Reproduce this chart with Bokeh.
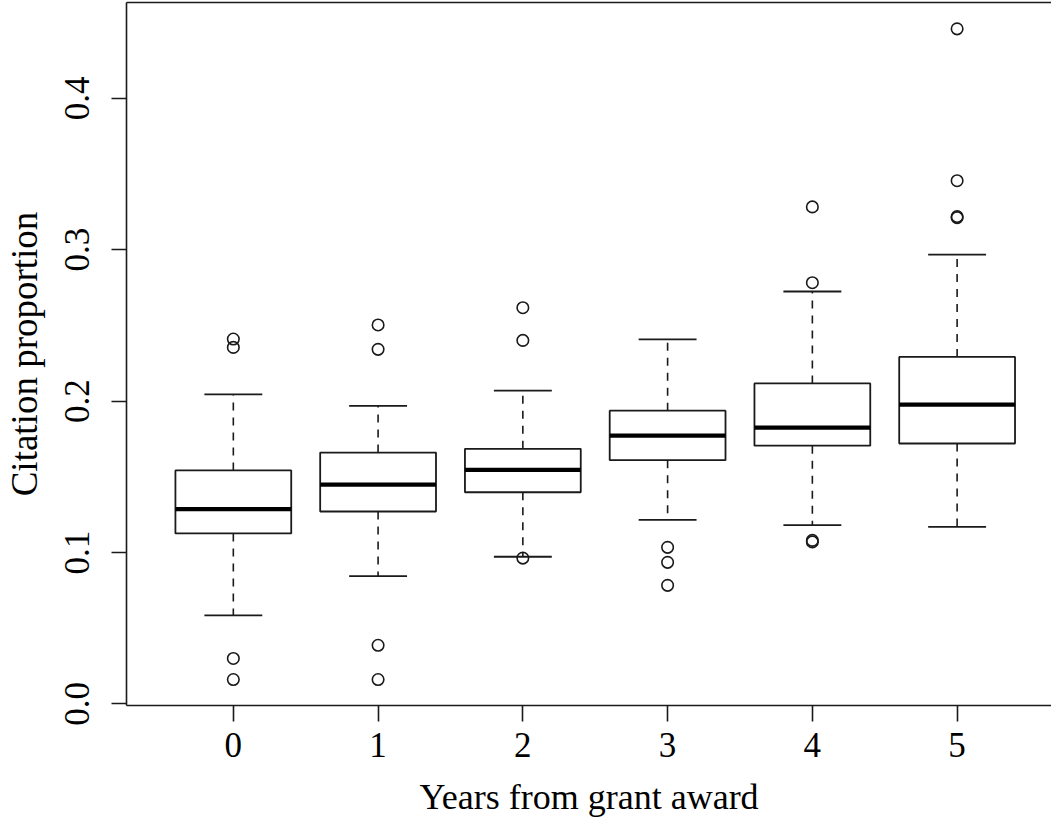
from bokeh.plotting import figure
from bokeh.models import Range1d, FixedTicker, NumeralTickFormatter, LinearAxis
from bokeh.embed import file_html
from bokeh.resources import INLINE

# ---- data ----
years = [0, 1, 2, 3, 4, 5]
lower_whisker = [0.0585, 0.0844, 0.0972, 0.1216, 0.1181, 0.1170]
q1 = [0.1126, 0.1271, 0.1398, 0.1610, 0.1706, 0.1720]
median = [0.1286, 0.1449, 0.1546, 0.1772, 0.1825, 0.1977]
q3 = [0.1542, 0.1660, 0.1685, 0.1937, 0.2117, 0.2292]
upper_whisker = [0.2045, 0.1968, 0.2069, 0.2408, 0.2724, 0.2968]
outlier_year = [0, 0, 0, 0,
                 1, 1, 1, 1,
                 2, 2, 2,
                 3, 3, 3,
                 4, 4, 4, 4,
                 5, 5, 5, 5]
outlier_value = [0.2410, 0.2355, 0.0300, 0.0161,
                 0.2503, 0.2342, 0.0387, 0.0161,
                 0.2617, 0.2401, 0.0963,
                 0.1034, 0.0935, 0.0783,
                 0.3283, 0.2782, 0.1080, 0.1070,
                 0.4459, 0.3456, 0.3219, 0.3212]
y_ticks = [0.0, 0.1, 0.2, 0.3, 0.4]
x_title = "Years from grant award"
y_title = "Citation proportion"

BOX_W = 0.8
STAPLE_W = 0.4
FONT = "Liberation Serif"
INK = "#1a1a1a"

p = figure(width=1051, height=819, output_backend="svg", toolbar_location=None,
           x_range=Range1d(-0.738, 5.652), y_range=Range1d(-0.00105, 0.4633),
           min_border_left=125, min_border_right=0, min_border_top=2, min_border_bottom=113,
           x_axis_label=x_title, y_axis_label=y_title)
p.outline_line_color = None
p.grid.grid_line_color = None
p.background_fill_color = "white"
p.border_fill_color = "white"

xl = [x - BOX_W / 2 for x in years]
xr = [x + BOX_W / 2 for x in years]
sl = [x - STAPLE_W / 2 for x in years]
sr = [x + STAPLE_W / 2 for x in years]

# whiskers (dashed)
p.segment(x0=years, x1=years, y0=q3, y1=upper_whisker, line_color=INK, line_width=1.6, line_dash="8 7")
p.segment(x0=years, x1=years, y0=q1, y1=lower_whisker, line_color=INK, line_width=1.6, line_dash="8 7")
# staples
p.segment(x0=sl, x1=sr, y0=upper_whisker, y1=upper_whisker, line_color=INK, line_width=1.8)
p.segment(x0=sl, x1=sr, y0=lower_whisker, y1=lower_whisker, line_color=INK, line_width=1.8)
# boxes
p.quad(left=xl, right=xr, bottom=q1, top=q3, fill_color="white", line_color=INK, line_width=1.8)
# medians
p.segment(x0=xl, x1=xr, y0=median, y1=median, line_color="black", line_width=4.2, line_cap="butt")
# outliers
p.scatter(x=outlier_year, y=outlier_value, marker="circle", size=11.5, fill_color=None,
          line_color=INK, line_width=1.6)

# axes
xa = p.xaxis[0]
xa.ticker = FixedTicker(ticks=years)
xa.major_tick_out = 16
xa.major_tick_in = 0
xa.minor_tick_line_color = None
xa.major_label_standoff = 11
xa.axis_label_standoff = 17
xa.major_label_text_font = FONT
xa.major_label_text_font_size = "35px"
xa.major_label_text_line_height = 1.0
xa.major_label_text_color = "black"
xa.axis_label_text_font = FONT
xa.axis_label_text_font_size = "36px"
xa.axis_label_text_line_height = 1.0
xa.axis_label_text_font_style = "normal"
xa.axis_label_text_color = "black"
xa.axis_line_color = INK
xa.axis_line_width = 1.6
xa.major_tick_line_color = INK
xa.major_tick_line_width = 1.6

ya = p.yaxis[0]
ya.ticker = FixedTicker(ticks=y_ticks)
ya.formatter = NumeralTickFormatter(format="0.0")
ya.major_label_orientation = "vertical"
ya.major_tick_out = 15
ya.major_tick_in = 0
ya.minor_tick_line_color = None
ya.major_label_standoff = 22
ya.axis_label_standoff = 18
ya.major_label_text_font = FONT
ya.major_label_text_font_size = "35px"
ya.major_label_text_line_height = 1.0
ya.major_label_text_color = "black"
ya.axis_label_text_font = FONT
ya.axis_label_text_font_size = "37px"
ya.axis_label_text_line_height = 1.0
ya.axis_label_text_font_style = "normal"
ya.axis_label_text_color = "black"
ya.axis_line_color = INK
ya.axis_line_width = 1.6
ya.major_tick_line_color = INK
ya.major_tick_line_width = 1.6

top = LinearAxis(ticker=FixedTicker(ticks=[]), major_label_text_font_size="0px",
                 major_tick_out=0, major_tick_in=0, minor_tick_out=0, minor_tick_in=0,
                 major_label_standoff=0, axis_line_color=INK, axis_line_width=1.6)
p.add_layout(top, "above")

open("out.html", "w").write(file_html(p, INLINE))
